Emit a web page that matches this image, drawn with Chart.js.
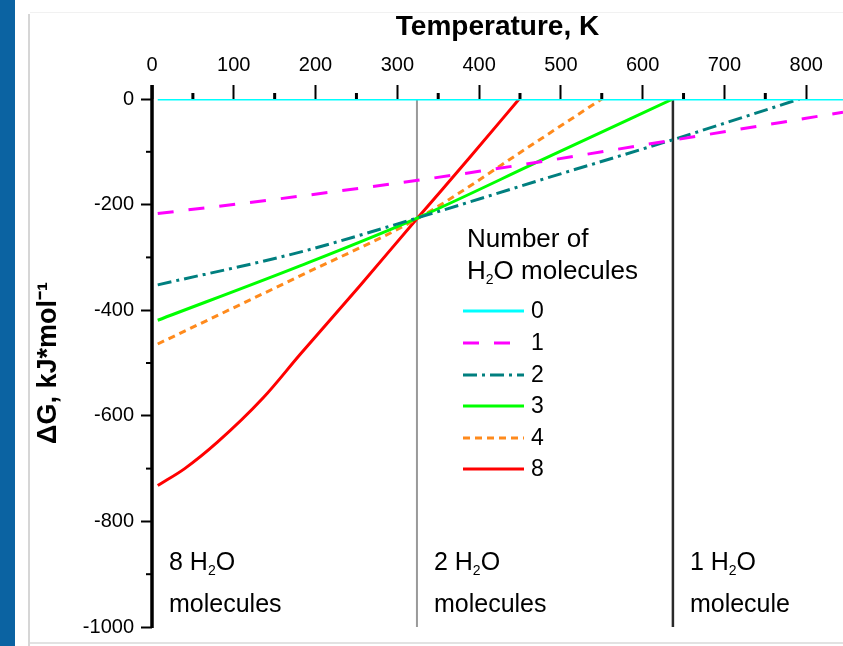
<!DOCTYPE html>
<html>
<head>
<meta charset="utf-8">
<script src="https://cdn.jsdelivr.net/npm/chart.js@4.4.1/dist/chart.umd.min.js"></script>
<style>
  html, body { margin: 0; padding: 0; background: #fff; }
  #wrap { position: relative; width: 843px; height: 646px; overflow: hidden; }
  #strip { position: absolute; left: 0; top: 0; width: 15px; height: 646px; background: #0b63a2; }
  #rule { position: absolute; left: 28px; top: 14px; width: 2px; height: 632px; background: #d6d6d6; }
  #topline { position: absolute; left: 30px; top: 12px; right: 0; height: 1px; background: #f1f1f1; }
  #bottomline { position: absolute; left: 30px; top: 642px; right: 0; height: 2px; background: #e2e2e2; }
  canvas { position: absolute; left: 0; top: 0; }
</style>
</head>
<body>
<div id="wrap">
  <div id="strip"></div><div id="rule"></div><div id="topline"></div><div id="bottomline"></div>
  <canvas id="chart" width="843" height="646"></canvas>
</div>
<script>
// number of H2O molecules for each curve
const seriesLabels = ['0', '1', '2', '3', '4', '8'];

// temperature (K) and dG (kJ/mol)
const temps0 = [7, 845];
const dG0 = [0, 0];
const temps1 = [7, 181, 400, 621, 845];
const dG1 = [-217, -184, -137, -82, -25];
const temps2 = [7, 181, 325, 480, 637, 792];
const dG2 = [-352, -290, -225, -151, -77, 0];
const temps3 = [7, 181, 325, 480, 637];
const dG3 = [-419, -316, -225, -113, 0];
const temps4 = [7, 181, 325, 474, 550];
const dG4 = [-464, -335, -226, -77, 0];
const temps8 = [7, 40, 80, 136, 181, 254, 325, 389, 449];
const dG8 = [-732, -700, -650, -566, -484, -354, -225, -110, 0];

// temperatures where the stable hydrate changes
const boundaryTemps = [324, 637];
const regionCounts = ['8', '2', '1'];
const regionWords = ['molecules', 'molecules', 'molecule'];

const xTickStep = 100;
const yTickStep = 200;

const FONT = "'Liberation Sans', Arial, sans-serif";
Chart.defaults.font.family = FONT;
Chart.defaults.color = '#000';

const colors = ['#00ffff', '#ff00ff', '#007f7f', '#00ff00', '#ff8a1c', '#ff0000'];
const dashes = [[], [16, 15], [14, 5, 3, 5], [], [7, 5], []];
const allTemps = [temps0, temps1, temps2, temps3, temps4, temps8];
const allDG = [dG0, dG1, dG2, dG3, dG4, dG8];

const toPoints = (ts, gs) => ts.map((t, i) => ({ x: t, y: gs[i] }));

const datasets = seriesLabels.map((lab, i) => ({
  label: lab,
  data: toPoints(allTemps[i], allDG[i]),
  borderColor: colors[i],
  borderDash: dashes[i],
  borderWidth: 3,
  pointRadius: 0,
  fill: false,
  cubicInterpolationMode: 'monotone',
  order: 1
}));

boundaryTemps.forEach((t, i) => {
  datasets.push({
    label: 'boundary',
    data: [{ x: t, y: 0 }, { x: t, y: -1000 }],
    borderColor: i === 0 ? '#9a9a9a' : '#2a2a2a',
    borderWidth: i === 0 ? 2 : 2.5,
    pointRadius: 0,
    fill: false,
    order: 5
  });
});

// draws the H2O formula with a small subscript 2
function drawWater(ctx, prefix, x, y, size) {
  ctx.font = size + 'px ' + FONT;
  const s = prefix + 'H';
  ctx.fillText(s, x, y);
  x += ctx.measureText(s).width;
  ctx.font = Math.round(size * 0.55) + 'px ' + FONT;
  ctx.fillText('2', x, y + size * 0.32);
  x += ctx.measureText('2').width;
  ctx.font = size + 'px ' + FONT;
  ctx.fillText('O', x, y);
  return x + ctx.measureText('O').width;
}

const decorPlugin = {
  id: 'decor',
  afterDraw(chart) {
    const { ctx, chartArea: area, scales: { x, y } } = chart;
    ctx.save();
    ctx.strokeStyle = '#000';

    // minor ticks
    ctx.lineWidth = 3;
    for (let t = xTickStep / 2; t < x.max; t += xTickStep) {
      const px = x.getPixelForValue(t);
      ctx.beginPath(); ctx.moveTo(px, area.top - 6); ctx.lineTo(px, area.top); ctx.stroke();
    }
    ctx.lineWidth = 2;
    for (let v = -yTickStep / 2; v > y.min; v -= yTickStep) {
      const py = y.getPixelForValue(v);
      ctx.beginPath(); ctx.moveTo(area.left - 6, py); ctx.lineTo(area.left, py); ctx.stroke();
    }

    // left axis line, running a little above zero
    ctx.lineWidth = 3.5;
    ctx.beginPath();
    ctx.moveTo(area.left, area.top - 14);
    ctx.lineTo(area.left, area.bottom + 1);
    ctx.stroke();

    // legend
    ctx.fillStyle = '#000';
    ctx.textBaseline = 'middle';
    ctx.textAlign = 'left';
    ctx.font = '26px ' + FONT;
    ctx.fillText('Number of', 467, 240);
    const endX = drawWater(ctx, '', 467, 272, 26);
    ctx.font = '26px ' + FONT;
    ctx.fillText(' molecules', endX, 272);
    const rowY = [311, 343, 375, 406, 438, 469];
    seriesLabels.forEach((lab, i) => {
      ctx.save();
      ctx.strokeStyle = colors[i];
      ctx.lineWidth = 3;
      ctx.setLineDash(dashes[i]);
      ctx.beginPath(); ctx.moveTo(463, rowY[i]); ctx.lineTo(524, rowY[i]); ctx.stroke();
      ctx.restore();
      ctx.font = '23px ' + FONT;
      ctx.fillText(lab, 531, rowY[i] + 1);
    });

    // region labels
    const anchors = [0].concat(boundaryTemps);
    anchors.forEach((t, i) => {
      const px = x.getPixelForValue(t) + 17;
      drawWater(ctx, regionCounts[i] + ' ', px, 563, 25);
      ctx.font = '25px ' + FONT;
      ctx.fillText(regionWords[i], px, 605);
    });
    ctx.restore();
  }
};

new Chart(document.getElementById('chart'), {
  type: 'line',
  data: { datasets },
  options: {
    responsive: false,
    animation: false,
    layout: { padding: { left: 30, top: 8, right: 0, bottom: 13 } },
    plugins: { legend: { display: false }, tooltip: { enabled: false } },
    scales: {
      x: {
        type: 'linear',
        position: 'top',
        min: 0,
        max: 845,
        ticks: {
          stepSize: xTickStep,
          includeBounds: false,
          padding: 8,
          maxRotation: 0,
          font: { size: 20 },
          callback: v => String(v)
        },
        grid: { drawOnChartArea: false, tickLength: 14, tickWidth: 2, tickColor: '#000' },
        border: { display: false },
        title: {
          display: true,
          text: 'Temperature, K',
          font: { size: 28, weight: 'bold' },
          padding: { top: 2, bottom: 0 }
        },
        afterFit: s => { s.height = 91; }
      },
      y: {
        type: 'linear',
        min: -1000,
        max: 0,
        ticks: {
          stepSize: yTickStep,
          padding: 7,
          font: { size: 20 },
          callback: v => String(v)
        },
        grid: { drawOnChartArea: false, tickLength: 11, tickWidth: 2, tickColor: '#000' },
        border: { display: false },
        title: {
          display: true,
          text: 'ΔG, kJ*mol⁻¹',
          font: { size: 27, weight: 'bold' },
          padding: { top: 2, bottom: 0 }
        },
        afterFit: s => { s.width = 122; }
      }
    }
  },
  plugins: [decorPlugin]
});
</script>
</body>
</html>
